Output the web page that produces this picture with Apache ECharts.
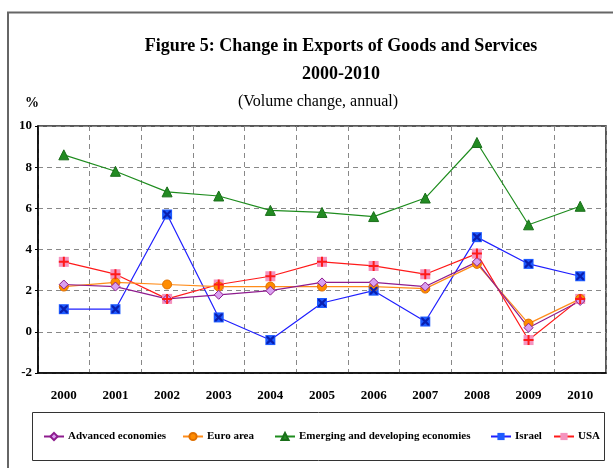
<!DOCTYPE html>
<html>
<head>
<meta charset="utf-8">
<script src="https://cdn.jsdelivr.net/npm/echarts@6/dist/echarts.min.js"></script>
<style>
html,body{margin:0;padding:0;background:#fff;}
#chart{width:613px;height:468px;}
</style>
</head>
<body>
<div id="chart"></div>
<script>
// Export volume change, % per year
const years = ['2000','2001','2002','2003','2004','2005','2006','2007','2008','2009','2010'];
const advanced = [2.3, 2.2, 1.6, 1.8, 2.0, 2.4, 2.4, 2.2, 3.4, 0.2, 1.5];
const euroArea = [2.2, 2.4, 2.3, 2.2, 2.2, 2.2, 2.2, 2.1, 3.3, 0.4, 1.6];
const emerging = [8.6, 7.8, 6.8, 6.6, 5.9, 5.8, 5.6, 6.5, 9.2, 5.2, 6.1];
const israel   = [1.1, 1.1, 5.7, 0.7, -0.4, 1.4, 2.0, 0.5, 4.6, 3.3, 2.7];
const usa      = [3.4, 2.8, 1.6, 2.3, 2.7, 3.4, 3.2, 2.8, 3.8, -0.4, 1.6];
const yTicks = [-2, 0, 2, 4, 6, 8, 10];
const legendNames = ['Advanced economies', 'Euro area', 'Emerging and developing economies', 'Israel', 'USA'];

const serif = '"Liberation Serif", "Times New Roman", serif';
const plusPath = 'path://M4,0H6V4H10V6H6V10H4V6H0V4H4Z';
const crossPath = 'path://M0,0L2,0L5,3L8,0L10,0L10,2L7,5L10,8L10,10L8,10L5,7L2,10L0,10L0,8L3,5L0,2Z';

const chart = echarts.init(document.getElementById('chart'));

function lineSeries(name, data, color, symbol, size, fill, border) {
  return {
    name: name, type: 'line', data: data,
    symbol: symbol, symbolSize: size,
    lineStyle: {color: color, width: 1.2},
    itemStyle: {color: fill, borderColor: border || fill, borderWidth: border ? 1 : 0},
    emphasis: {disabled: true},
    z: 3
  };
}

// overlay glyphs drawn on top of the base markers (no line)
function glyphSeries(name, data, color, path, size) {
  return {
    name: name, type: 'line', data: data,
    symbol: path, symbolSize: size,
    lineStyle: {opacity: 0},
    itemStyle: {color: color},
    emphasis: {disabled: true},
    z: 4, silent: true
  };
}

// one legend per entry so each sits at its own place inside the box
const legendLefts = [43, 182, 274, 490, 553];
const legends = legendNames.map(function (n, i) {
  return {
    data: [n], left: legendLefts[i], top: 431,
    padding: 0, itemWidth: 20, itemHeight: 9, itemGap: 0,
    textStyle: {fontFamily: serif, fontWeight: 'bold', fontSize: 11, color: '#000', padding: [0, 0, 0, -1]}
  };
});

chart.setOption({
  animation: false,
  backgroundColor: '#fff',
  title: [
    {text: 'Figure 5: Change in Exports of Goods and Services', left: 336, top: 32, textAlign: 'center',
     textStyle: {fontFamily: serif, fontWeight: 'bold', fontSize: 18, color: '#000'}},
    {text: '2000-2010', left: 336, top: 60, textAlign: 'center',
     textStyle: {fontFamily: serif, fontWeight: 'bold', fontSize: 18, color: '#000'}},
    {text: '(Volume change, annual)', left: 313, top: 89, textAlign: 'center',
     textStyle: {fontFamily: serif, fontWeight: 'normal', fontSize: 16, color: '#000'}},
    {text: '%', left: 20, top: 91,
     textStyle: {fontFamily: serif, fontWeight: 'bold', fontSize: 14, color: '#000'}}
  ],
  graphic: [
    {type: 'polyline', shape: {points: [[8, 468], [8, 12.5], [613, 12.5]]},
     style: {stroke: '#666', lineWidth: 2, fill: null}, silent: true},
    {type: 'rect', shape: {x: 32.5, y: 412.5, width: 572, height: 48},
     style: {stroke: '#333', lineWidth: 1, fill: null}, silent: true}
  ],
  legend: legends,
  grid: {left: 38, right: 7, top: 126, bottom: 95, show: true, borderColor: '#222', borderWidth: 1.5},
  xAxis: {
    type: 'category', data: years, boundaryGap: true,
    axisLine: {show: true, onZero: false, lineStyle: {color: '#000', width: 1.5}},
    axisTick: {show: false},
    axisLabel: {fontFamily: serif, fontWeight: 'bold', fontSize: 13, color: '#000', margin: 16},
    splitLine: {show: true, lineStyle: {color: '#888', type: [5, 4], width: 1}}
  },
  yAxis: {
    type: 'value', min: -2, max: 10, interval: 2,
    axisLine: {show: true, lineStyle: {color: '#000', width: 1.5}},
    axisTick: {show: true, length: 3, inside: false, lineStyle: {color: '#000'}},
    axisLabel: {fontFamily: serif, fontWeight: 'bold', fontSize: 13, color: '#000', margin: 6,
      formatter: function (v) { return yTicks.indexOf(v) >= 0 ? String(v) : ''; }},
    splitLine: {show: true, lineStyle: {color: '#888', type: [5, 4], width: 1}}
  },
  series: [
    lineSeries('Emerging and developing economies', emerging, '#1E8C1E', 'triangle', 10, '#228B22', '#1a6e1a'),
    lineSeries('Israel', israel, '#1F1FFF', 'rect', 10, '#1E5BFF'),
    glyphSeries('Israel glyph', israel, '#0A1FB0', crossPath, 8),
    lineSeries('USA', usa, '#FF1A1A', 'rect', 10, '#F593BE'),
    glyphSeries('USA glyph', usa, '#FF1A1A', plusPath, 10),
    lineSeries('Euro area', euroArea, '#FF8C1A', 'circle', 9, '#FF8C00', '#E07000'),
    lineSeries('Advanced economies', advanced, '#8E1C8E', 'diamond', 9, '#D9A0F0', '#8E1C8E')
  ]
});
</script>
</body>
</html>
